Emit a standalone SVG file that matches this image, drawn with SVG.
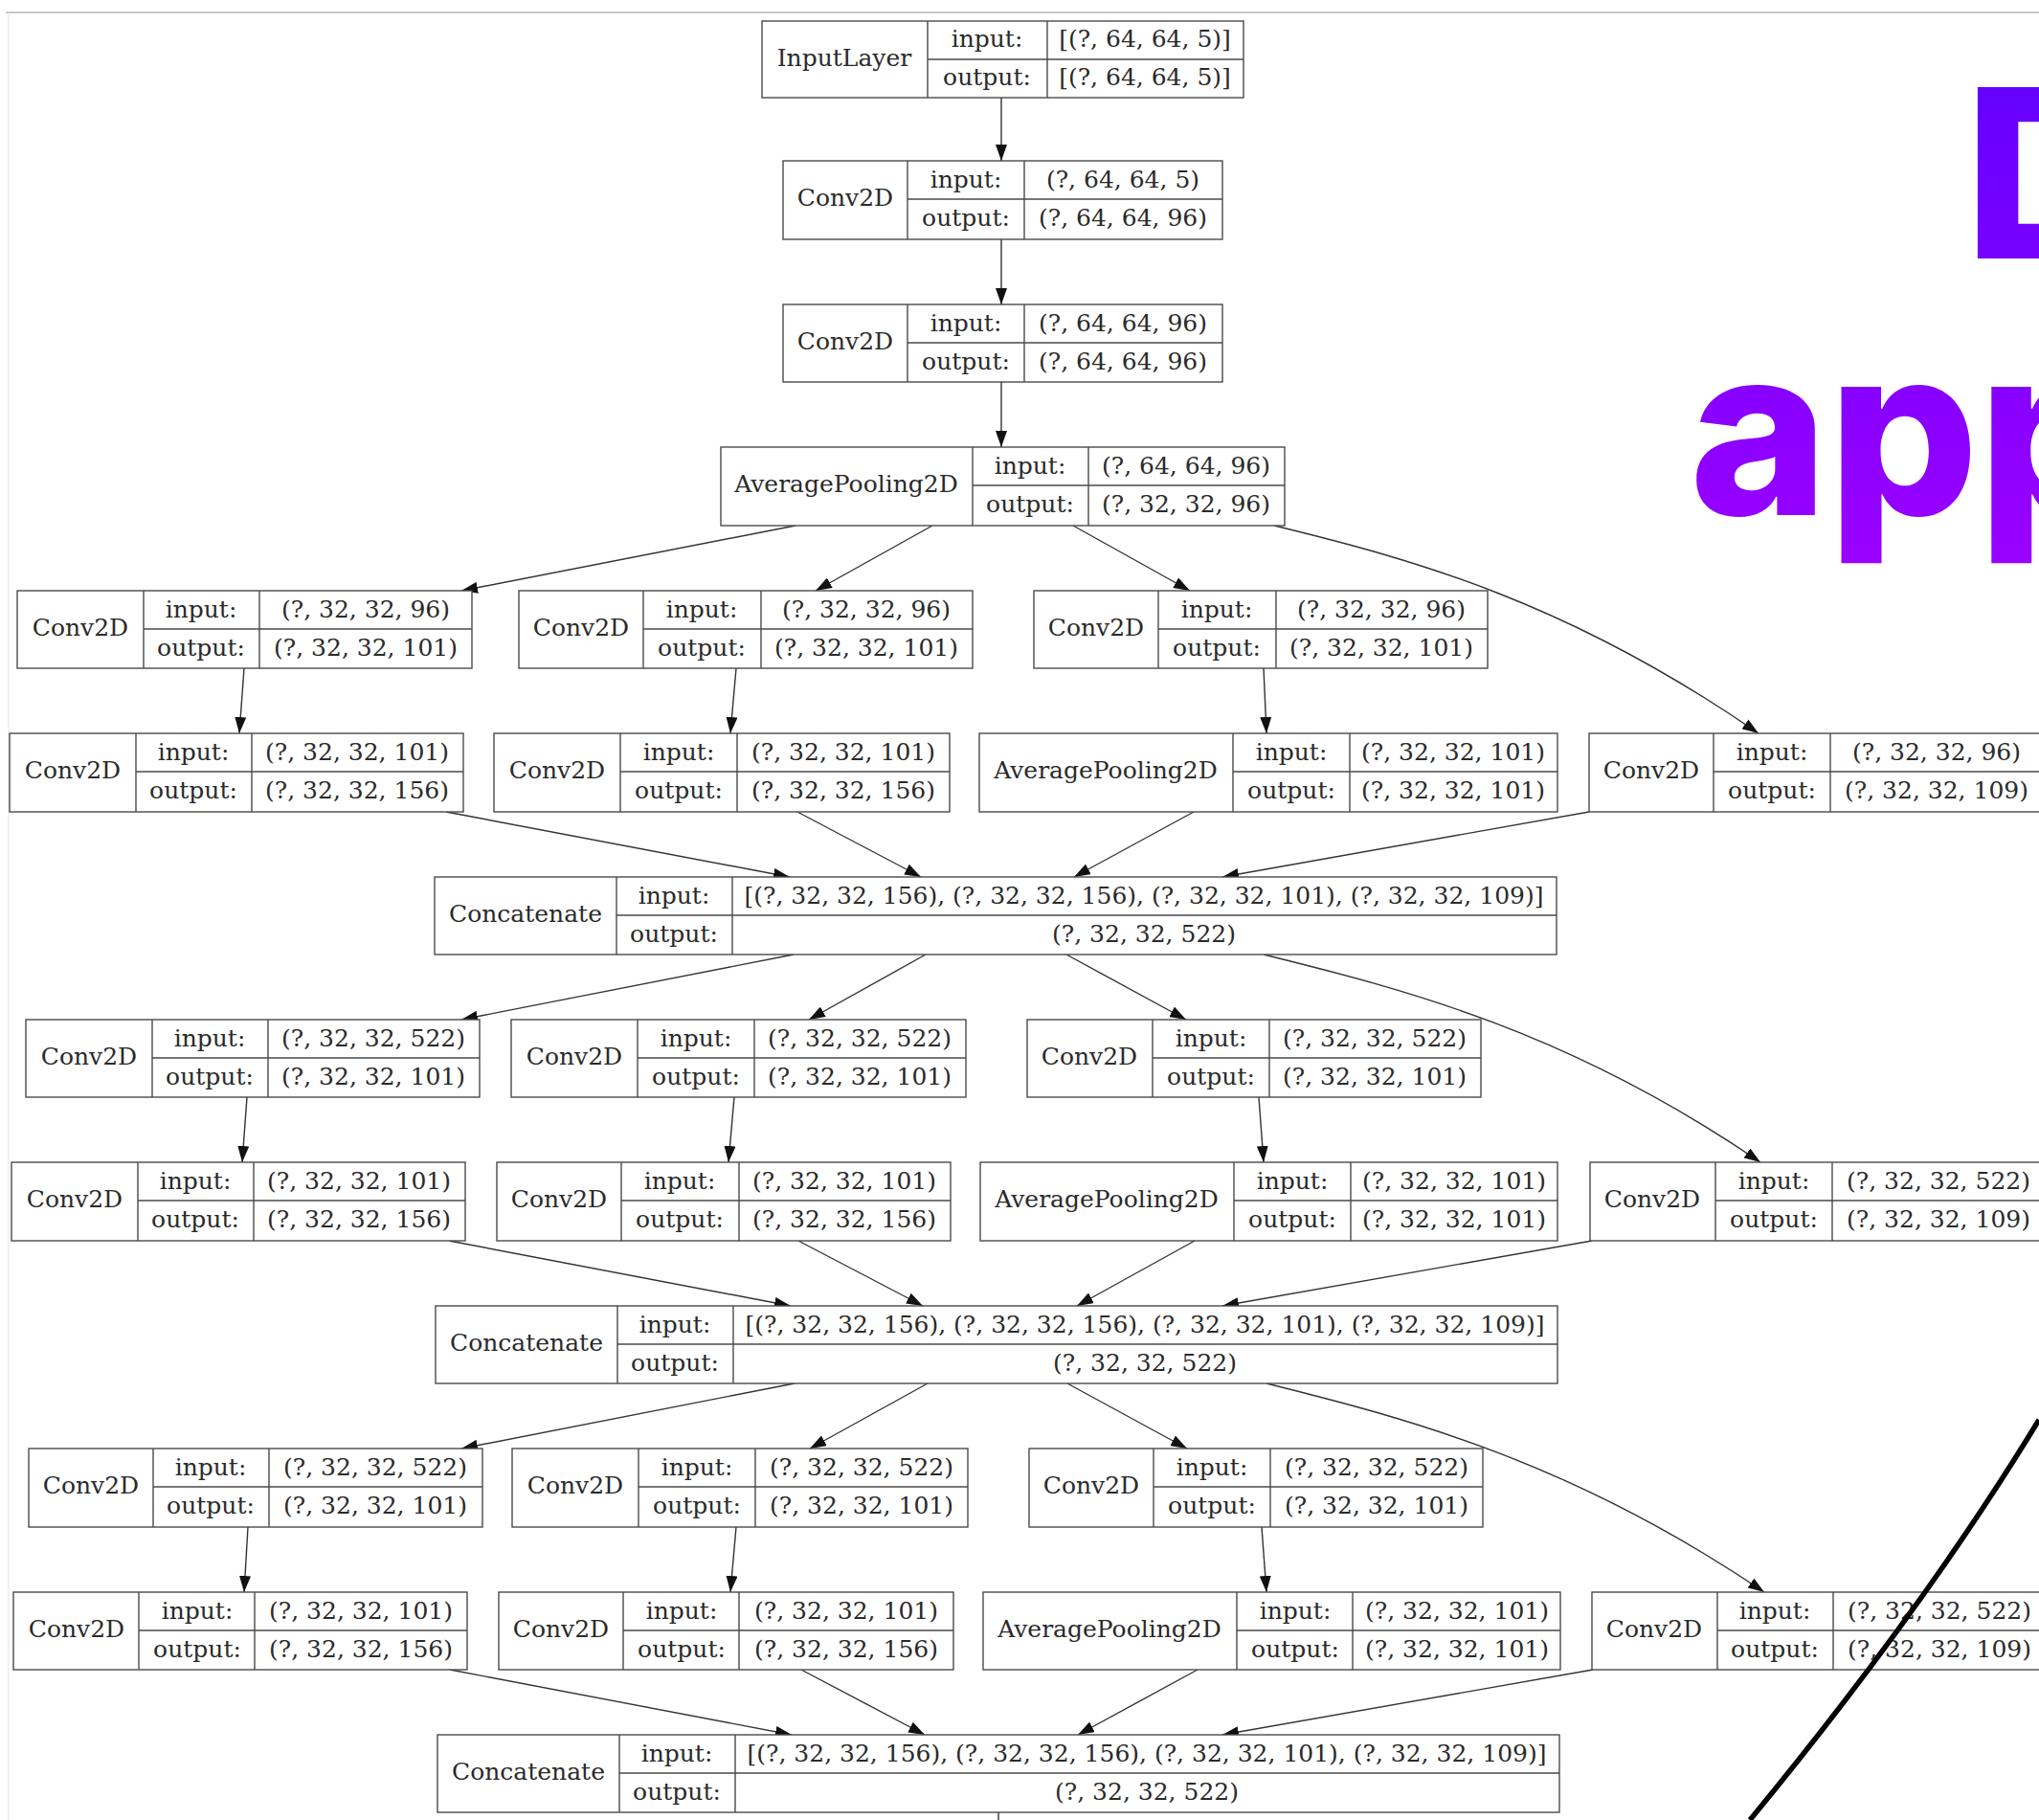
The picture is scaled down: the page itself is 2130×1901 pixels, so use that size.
<svg xmlns="http://www.w3.org/2000/svg" width="2130" height="1901" viewBox="0 0 2130 1901">
<style>
.box{fill:#fff;stroke:#4a4a4a;stroke-width:1.4}
.div{fill:none;stroke:#4a4a4a;stroke-width:1.4}
.t{font-family:"DejaVu Serif",serif;font-size:25px;fill:#2a2a2a;text-anchor:middle;transform:translate(0px,-3px)}
.e{fill:none;stroke:#333;stroke-width:1.4;marker-end:url(#ah)}
.big{font-family:Inter,"Liberation Sans",sans-serif;font-weight:800;font-size:246px;fill:url(#pg)}
</style>
<defs>
<marker id="ah" markerUnits="userSpaceOnUse" markerWidth="18" markerHeight="12" refX="17" refY="6" orient="auto"><path d="M0,0 L17,6 L0,12 z" fill="#111"/></marker>
<linearGradient id="pg" gradientUnits="userSpaceOnUse" x1="0" y1="80" x2="0" y2="590"><stop offset="0" stop-color="#6400ff"/><stop offset="1" stop-color="#9a00ff"/></linearGradient>
</defs>
<rect width="2130" height="1901" fill="#fff"/>
<line x1="6" y1="13" x2="2130" y2="13" stroke="#c8c8c8" stroke-width="2"/>
<line x1="9" y1="15" x2="9" y2="1901" stroke="#f2f2f2" stroke-width="2"/>

<g id="connectors">
<path class="e" d="M1046,102 V168"/>
<path class="e" d="M1046,250 V318"/>
<path class="e" d="M1046,399 V467"/>
<path class="e" d="M831,549 L482,617"/>
<path class="e" d="M974,549 L852,617"/>
<path class="e" d="M1121,549 L1243,617"/>
<path class="e" d="M1331,549 C1480,585 1640,630 1837,766"/>
<path class="e" d="M255,698 L250,766"/>
<path class="e" d="M769,698 L763,766"/>
<path class="e" d="M1320,698 L1323,766"/>
<path class="e" d="M466,848 L825,916"/>
<path class="e" d="M833,848 L962,916"/>
<path class="e" d="M1247,848 L1122,916"/>
<path class="e" d="M1660,848 L1277,916"/>
<path class="e" d="M829,997 L482,1065"/>
<path class="e" d="M967,997 L845,1065"/>
<path class="e" d="M1114,997 L1239,1065"/>
<path class="e" d="M1320,997 C1470,1034 1640,1078 1839,1214"/>
<path class="e" d="M258,1146 L253,1214"/>
<path class="e" d="M767,1146 L761,1214"/>
<path class="e" d="M1315,1146 L1320,1214"/>
<path class="e" d="M469,1296 L826,1364"/>
<path class="e" d="M834,1296 L964,1364"/>
<path class="e" d="M1248,1296 L1125,1364"/>
<path class="e" d="M1663,1296 L1277,1364"/>
<path class="e" d="M830,1445 L482,1513"/>
<path class="e" d="M969,1445 L846,1513"/>
<path class="e" d="M1115,1445 L1240,1513"/>
<path class="e" d="M1323,1445 C1472,1482 1642,1527 1843,1663"/>
<path class="e" d="M259,1595 L255,1663"/>
<path class="e" d="M769,1595 L763,1663"/>
<path class="e" d="M1318,1595 L1323,1663"/>
<path class="e" d="M470,1744 L827,1812"/>
<path class="e" d="M837,1744 L966,1812"/>
<path class="e" d="M1251,1744 L1126,1812"/>
<path class="e" d="M1664,1744 L1277,1812"/>
<path d="M1043,1893 V1901" fill="none" stroke="#333" stroke-width="1.4"/>
</g>

<g id="n0"><rect class="box" x="796" y="22" width="503" height="80"/><path class="div" d="M969,22 V102 M1094,22 V102 M969,62 H1299"/><text class="t" x="882" y="72">InputLayer</text><text class="t" x="1031" y="52">input:</text><text class="t" x="1196" y="52">[(?, 64, 64, 5)]</text><text class="t" x="1031" y="92">output:</text><text class="t" x="1196" y="92">[(?, 64, 64, 5)]</text></g>

<g id="n1"><rect class="box" x="818" y="168" width="459" height="82"/><path class="div" d="M948,168 V250 M1070,168 V250 M948,208 H1277"/><text class="t" x="883" y="218">Conv2D</text><text class="t" x="1009" y="199">input:</text><text class="t" x="1173" y="199">(?, 64, 64, 5)</text><text class="t" x="1009" y="239">output:</text><text class="t" x="1173" y="239">(?, 64, 64, 96)</text></g>

<g id="n2"><rect class="box" x="818" y="318" width="459" height="81"/><path class="div" d="M948,318 V399 M1070,318 V399 M948,358 H1277"/><text class="t" x="883" y="368">Conv2D</text><text class="t" x="1009" y="349">input:</text><text class="t" x="1173" y="349">(?, 64, 64, 96)</text><text class="t" x="1009" y="389">output:</text><text class="t" x="1173" y="389">(?, 64, 64, 96)</text></g>

<g id="n3"><rect class="box" x="753" y="467" width="589" height="82"/><path class="div" d="M1016,467 V549 M1137,467 V549 M1016,507 H1342"/><text class="t" x="884" y="517">AveragePooling2D</text><text class="t" x="1076" y="498">input:</text><text class="t" x="1239" y="498">(?, 64, 64, 96)</text><text class="t" x="1076" y="538">output:</text><text class="t" x="1239" y="538">(?, 32, 32, 96)</text></g>

<g id="n4a"><rect class="box" x="18" y="617" width="475" height="81"/><path class="div" d="M150,617 V698 M271,617 V698 M150,657 H493"/><text class="t" x="84" y="667">Conv2D</text><text class="t" x="210" y="648">input:</text><text class="t" x="382" y="648">(?, 32, 32, 96)</text><text class="t" x="210" y="688">output:</text><text class="t" x="382" y="688">(?, 32, 32, 101)</text></g>
<g id="n4b"><rect class="box" x="542" y="617" width="474" height="81"/><path class="div" d="M672,617 V698 M795,617 V698 M672,657 H1016"/><text class="t" x="607" y="667">Conv2D</text><text class="t" x="733" y="648">input:</text><text class="t" x="905" y="648">(?, 32, 32, 96)</text><text class="t" x="733" y="688">output:</text><text class="t" x="905" y="688">(?, 32, 32, 101)</text></g>
<g id="n4c"><rect class="box" x="1080" y="617" width="474" height="81"/><path class="div" d="M1210,617 V698 M1333,617 V698 M1210,657 H1554"/><text class="t" x="1145" y="667">Conv2D</text><text class="t" x="1271" y="648">input:</text><text class="t" x="1443" y="648">(?, 32, 32, 96)</text><text class="t" x="1271" y="688">output:</text><text class="t" x="1443" y="688">(?, 32, 32, 101)</text></g>

<g id="n5a"><rect class="box" x="10" y="766" width="474" height="82"/><path class="div" d="M142,766 V848 M263,766 V848 M142,806 H484"/><text class="t" x="76" y="816">Conv2D</text><text class="t" x="202" y="797">input:</text><text class="t" x="373" y="797">(?, 32, 32, 101)</text><text class="t" x="202" y="837">output:</text><text class="t" x="373" y="837">(?, 32, 32, 156)</text></g>
<g id="n5b"><rect class="box" x="516" y="766" width="476" height="82"/><path class="div" d="M648,766 V848 M770,766 V848 M648,806 H992"/><text class="t" x="582" y="816">Conv2D</text><text class="t" x="709" y="797">input:</text><text class="t" x="881" y="797">(?, 32, 32, 101)</text><text class="t" x="709" y="837">output:</text><text class="t" x="881" y="837">(?, 32, 32, 156)</text></g>
<g id="n5c"><rect class="box" x="1023" y="766" width="604" height="82"/><path class="div" d="M1288,766 V848 M1410,766 V848 M1288,806 H1627"/><text class="t" x="1155" y="816">AveragePooling2D</text><text class="t" x="1349" y="797">input:</text><text class="t" x="1518" y="797">(?, 32, 32, 101)</text><text class="t" x="1349" y="837">output:</text><text class="t" x="1518" y="837">(?, 32, 32, 101)</text></g>
<g id="n5d"><rect class="box" x="1660" y="766" width="475" height="82"/><path class="div" d="M1790,766 V848 M1912,766 V848 M1790,806 H2135"/><text class="t" x="1725" y="816">Conv2D</text><text class="t" x="1851" y="797">input:</text><text class="t" x="2023" y="797">(?, 32, 32, 96)</text><text class="t" x="1851" y="837">output:</text><text class="t" x="2023" y="837">(?, 32, 32, 109)</text></g>

<g id="n6"><rect class="box" x="454" y="916" width="1172" height="81"/><path class="div" d="M644,916 V997 M765,916 V997 M644,956 H1626"/><text class="t" x="549" y="966">Concatenate</text><text class="t" x="704" y="947">input:</text><text class="t" x="1195" y="947">[(?, 32, 32, 156), (?, 32, 32, 156), (?, 32, 32, 101), (?, 32, 32, 109)]</text><text class="t" x="704" y="987">output:</text><text class="t" x="1195" y="987">(?, 32, 32, 522)</text></g>

<g id="n7a"><rect class="box" x="27" y="1065" width="474" height="81"/><path class="div" d="M159,1065 V1146 M280,1065 V1146 M159,1105 H501"/><text class="t" x="93" y="1115">Conv2D</text><text class="t" x="219" y="1096">input:</text><text class="t" x="390" y="1096">(?, 32, 32, 522)</text><text class="t" x="219" y="1136">output:</text><text class="t" x="390" y="1136">(?, 32, 32, 101)</text></g>
<g id="n7b"><rect class="box" x="534" y="1065" width="475" height="81"/><path class="div" d="M666,1065 V1146 M788,1065 V1146 M666,1105 H1009"/><text class="t" x="600" y="1115">Conv2D</text><text class="t" x="727" y="1096">input:</text><text class="t" x="898" y="1096">(?, 32, 32, 522)</text><text class="t" x="727" y="1136">output:</text><text class="t" x="898" y="1136">(?, 32, 32, 101)</text></g>
<g id="n7c"><rect class="box" x="1073" y="1065" width="474" height="81"/><path class="div" d="M1204,1065 V1146 M1326,1065 V1146 M1204,1105 H1547"/><text class="t" x="1138" y="1115">Conv2D</text><text class="t" x="1265" y="1096">input:</text><text class="t" x="1436" y="1096">(?, 32, 32, 522)</text><text class="t" x="1265" y="1136">output:</text><text class="t" x="1436" y="1136">(?, 32, 32, 101)</text></g>

<g id="n8a"><rect class="box" x="12" y="1214" width="474" height="82"/><path class="div" d="M144,1214 V1296 M265,1214 V1296 M144,1254 H486"/><text class="t" x="78" y="1264">Conv2D</text><text class="t" x="204" y="1245">input:</text><text class="t" x="375" y="1245">(?, 32, 32, 101)</text><text class="t" x="204" y="1285">output:</text><text class="t" x="375" y="1285">(?, 32, 32, 156)</text></g>
<g id="n8b"><rect class="box" x="519" y="1214" width="474" height="82"/><path class="div" d="M649,1214 V1296 M772,1214 V1296 M649,1254 H993"/><text class="t" x="584" y="1264">Conv2D</text><text class="t" x="710" y="1245">input:</text><text class="t" x="882" y="1245">(?, 32, 32, 101)</text><text class="t" x="710" y="1285">output:</text><text class="t" x="882" y="1285">(?, 32, 32, 156)</text></g>
<g id="n8c"><rect class="box" x="1024" y="1214" width="603" height="82"/><path class="div" d="M1289,1214 V1296 M1411,1214 V1296 M1289,1254 H1627"/><text class="t" x="1156" y="1264">AveragePooling2D</text><text class="t" x="1350" y="1245">input:</text><text class="t" x="1519" y="1245">(?, 32, 32, 101)</text><text class="t" x="1350" y="1285">output:</text><text class="t" x="1519" y="1285">(?, 32, 32, 101)</text></g>
<g id="n8d"><rect class="box" x="1661" y="1214" width="475" height="82"/><path class="div" d="M1792,1214 V1296 M1914,1214 V1296 M1792,1254 H2136"/><text class="t" x="1726" y="1264">Conv2D</text><text class="t" x="1853" y="1245">input:</text><text class="t" x="2025" y="1245">(?, 32, 32, 522)</text><text class="t" x="1853" y="1285">output:</text><text class="t" x="2025" y="1285">(?, 32, 32, 109)</text></g>

<g id="n9"><rect class="box" x="455" y="1364" width="1172" height="81"/><path class="div" d="M645,1364 V1445 M766,1364 V1445 M645,1404 H1627"/><text class="t" x="550" y="1414">Concatenate</text><text class="t" x="705" y="1395">input:</text><text class="t" x="1196" y="1395">[(?, 32, 32, 156), (?, 32, 32, 156), (?, 32, 32, 101), (?, 32, 32, 109)]</text><text class="t" x="705" y="1435">output:</text><text class="t" x="1196" y="1435">(?, 32, 32, 522)</text></g>

<g id="n10a"><rect class="box" x="30" y="1513" width="474" height="82"/><path class="div" d="M160,1513 V1595 M281,1513 V1595 M160,1553 H504"/><text class="t" x="95" y="1563">Conv2D</text><text class="t" x="220" y="1544">input:</text><text class="t" x="392" y="1544">(?, 32, 32, 522)</text><text class="t" x="220" y="1584">output:</text><text class="t" x="392" y="1584">(?, 32, 32, 101)</text></g>
<g id="n10b"><rect class="box" x="535" y="1513" width="476" height="82"/><path class="div" d="M667,1513 V1595 M789,1513 V1595 M667,1553 H1011"/><text class="t" x="601" y="1563">Conv2D</text><text class="t" x="728" y="1544">input:</text><text class="t" x="900" y="1544">(?, 32, 32, 522)</text><text class="t" x="728" y="1584">output:</text><text class="t" x="900" y="1584">(?, 32, 32, 101)</text></g>
<g id="n10c"><rect class="box" x="1075" y="1513" width="474" height="82"/><path class="div" d="M1205,1513 V1595 M1327,1513 V1595 M1205,1553 H1549"/><text class="t" x="1140" y="1563">Conv2D</text><text class="t" x="1266" y="1544">input:</text><text class="t" x="1438" y="1544">(?, 32, 32, 522)</text><text class="t" x="1266" y="1584">output:</text><text class="t" x="1438" y="1584">(?, 32, 32, 101)</text></g>

<g id="n11a"><rect class="box" x="14" y="1663" width="474" height="81"/><path class="div" d="M145,1663 V1744 M266,1663 V1744 M145,1703 H488"/><text class="t" x="80" y="1713">Conv2D</text><text class="t" x="206" y="1694">input:</text><text class="t" x="377" y="1694">(?, 32, 32, 101)</text><text class="t" x="206" y="1734">output:</text><text class="t" x="377" y="1734">(?, 32, 32, 156)</text></g>
<g id="n11b"><rect class="box" x="521" y="1663" width="475" height="81"/><path class="div" d="M651,1663 V1744 M772,1663 V1744 M651,1703 H996"/><text class="t" x="586" y="1713">Conv2D</text><text class="t" x="712" y="1694">input:</text><text class="t" x="884" y="1694">(?, 32, 32, 101)</text><text class="t" x="712" y="1734">output:</text><text class="t" x="884" y="1734">(?, 32, 32, 156)</text></g>
<g id="n11c"><rect class="box" x="1027" y="1663" width="603" height="81"/><path class="div" d="M1292,1663 V1744 M1413,1663 V1744 M1292,1703 H1630"/><text class="t" x="1159" y="1713">AveragePooling2D</text><text class="t" x="1353" y="1694">input:</text><text class="t" x="1522" y="1694">(?, 32, 32, 101)</text><text class="t" x="1353" y="1734">output:</text><text class="t" x="1522" y="1734">(?, 32, 32, 101)</text></g>
<g id="n11d"><rect class="box" x="1663" y="1663" width="475" height="81"/><path class="div" d="M1794,1663 V1744 M1915,1663 V1744 M1794,1703 H2138"/><text class="t" x="1728" y="1713">Conv2D</text><text class="t" x="1854" y="1694">input:</text><text class="t" x="2026" y="1694">(?, 32, 32, 522)</text><text class="t" x="1854" y="1734">output:</text><text class="t" x="2026" y="1734">(?, 32, 32, 109)</text></g>

<g id="n12"><rect class="box" x="457" y="1812" width="1172" height="81"/><path class="div" d="M647,1812 V1893 M768,1812 V1893 M647,1852 H1629"/><text class="t" x="552" y="1862">Concatenate</text><text class="t" x="707" y="1843">input:</text><text class="t" x="1198" y="1843">[(?, 32, 32, 156), (?, 32, 32, 156), (?, 32, 32, 101), (?, 32, 32, 109)]</text><text class="t" x="707" y="1883">output:</text><text class="t" x="1198" y="1883">(?, 32, 32, 522)</text></g>

<g id="overlay">
<text class="big" x="2052" y="270">D</text>
<text class="big" x="1765" y="538">app</text>
<path d="M2130,1483 Q2010,1680 1828,1901" fill="none" stroke="#000" stroke-width="5.5"/>
</g>
</svg>
